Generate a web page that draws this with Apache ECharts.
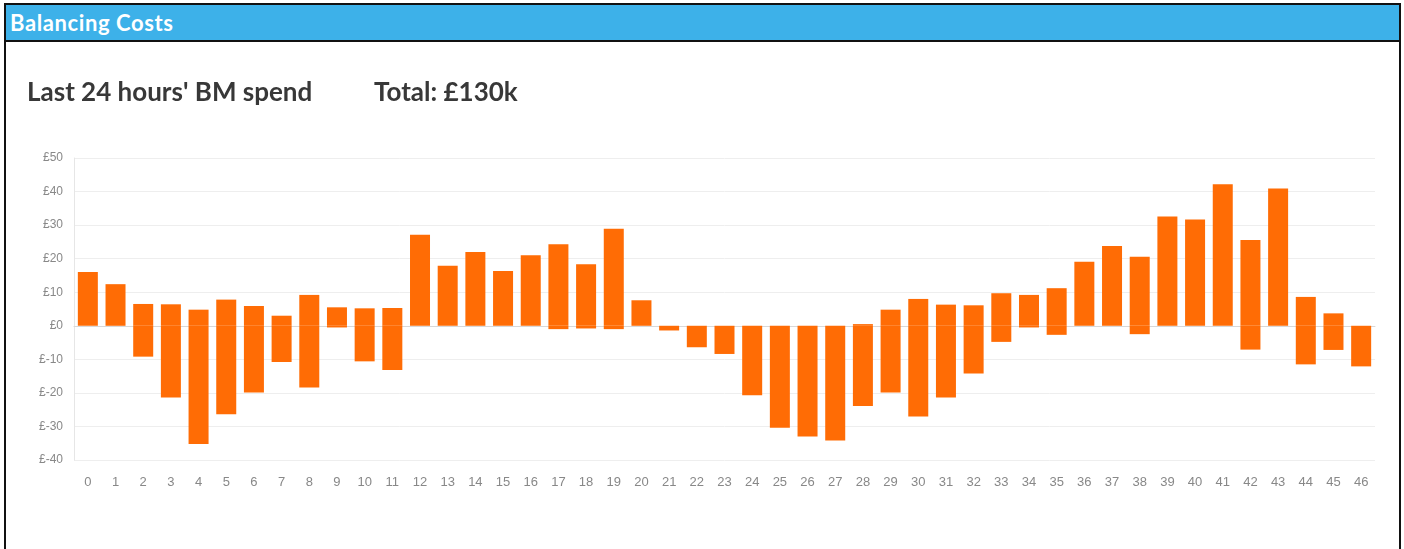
<!DOCTYPE html>
<html>
<head>
<meta charset="utf-8">
<script src="https://cdn.jsdelivr.net/npm/echarts@6/dist/echarts.min.js"></script>
<style>
	body { margin: 0; width: 1404px; height: 549px; overflow: hidden; background: #fff; }
	.frame { position: absolute; left: 4px; top: 3px; width: 1393px; height: 560px; border: 2px solid #111; border-bottom: none; }
	.head { height: 35px; background: #3db1e9; border-bottom: 2px solid #111; color: #fff;
		font: bold 22px Lato, "Open Sans", sans-serif; letter-spacing: 0.6px; line-height: 35px; padding-left: 4px; }
	#chart { position: absolute; left: 0; top: 0; width: 1404px; height: 549px; }
</style>
</head>
<body>
<div class="frame"><div class="head">Balancing Costs</div></div>
<div id="chart"></div>
<script>
	// half-hour periods
	var categories = [];
	for (var i = 0; i <= 46; i++) categories.push(String(i));

	// positive part of each period (£)
	var upSpend = [16, 12.4, 6.5, 6.4, 4.8, 7.8, 5.9, 3, 9.2, 5.5, 5.2, 5.3, 27.1, 17.9, 22, 16.3,
		21, 24.3, 18.3, 28.9, 7.6, 0, 0, 0, 0, 0, 0, 0, 0.5, 4.8, 8, 6.3, 6.1, 9.7, 9.2, 11.2,
		19.1, 23.8, 20.6, 32.6, 31.7, 42.2, 25.6, 40.9, 8.6, 3.7, 0];

	// negative part of each period (£)
	var downSpend = [0, 0, -9.2, -21.4, -35.2, -26.4, -19.9, -10.8, -18.4, -0.5, -10.6, -13.2, 0, 0, 0, 0,
		0, -1, -0.8, -1, 0, -1.4, -6.4, -8.4, -20.7, -30.4, -33, -34.2, -23.9, -19.9, -27, -21.4, -14.2, -4.8, -0.5, -2.7,
		0, 0, -2.5, 0, 0, 0, -7.1, 0, -11.5, -7.2, -12.1];

	var myChart = echarts.init(document.getElementById('chart'));

	var option = {
		animation: false,
		title: [{
			text: "Last 24 hours' BM spend",
			left: 22, top: 75,
			textStyle: { fontFamily: 'Lato', fontSize: 26, fontWeight: 'bold', color: '#383838' }
		}, {
			text: 'Total: £130k',
			left: 369, top: 75,
			textStyle: { fontFamily: 'Lato', fontSize: 26, fontWeight: 'bold', color: '#383838' }
		}],
		grid: { left: 74, right: 29, top: 158, bottom: 89 },
		xAxis: {
			type: 'category',
			data: categories,
			axisLine: { onZero: true, lineStyle: { color: '#d8d8d8' } },
			axisTick: { show: false },
			axisLabel: { color: '#888', fontSize: 13, fontFamily: 'Liberation Sans', margin: 16 }
		},
		yAxis: {
			type: 'value',
			min: -40, max: 50, interval: 10,
			axisLine: { show: true, lineStyle: { color: '#e6e6e6' } },
			axisTick: { show: false },
			splitLine: { lineStyle: { color: '#eeeeee' } },
			axisLabel: {
				color: '#888', fontSize: 12, fontFamily: 'Liberation Sans', margin: 11,
				formatter: function (v) { return '£' + v; }
			}
		},
		series: [{
			name: 'up',
			type: 'bar',
			stack: 'spend',
			barWidth: 20,
			data: upSpend,
			itemStyle: { color: '#ff6c05' }
		}, {
			name: 'down',
			type: 'bar',
			stack: 'spend',
			barWidth: 20,
			data: downSpend,
			itemStyle: { color: '#ff6c05' }
		}]
	};

	myChart.setOption(option);
</script>
</body>
</html>
